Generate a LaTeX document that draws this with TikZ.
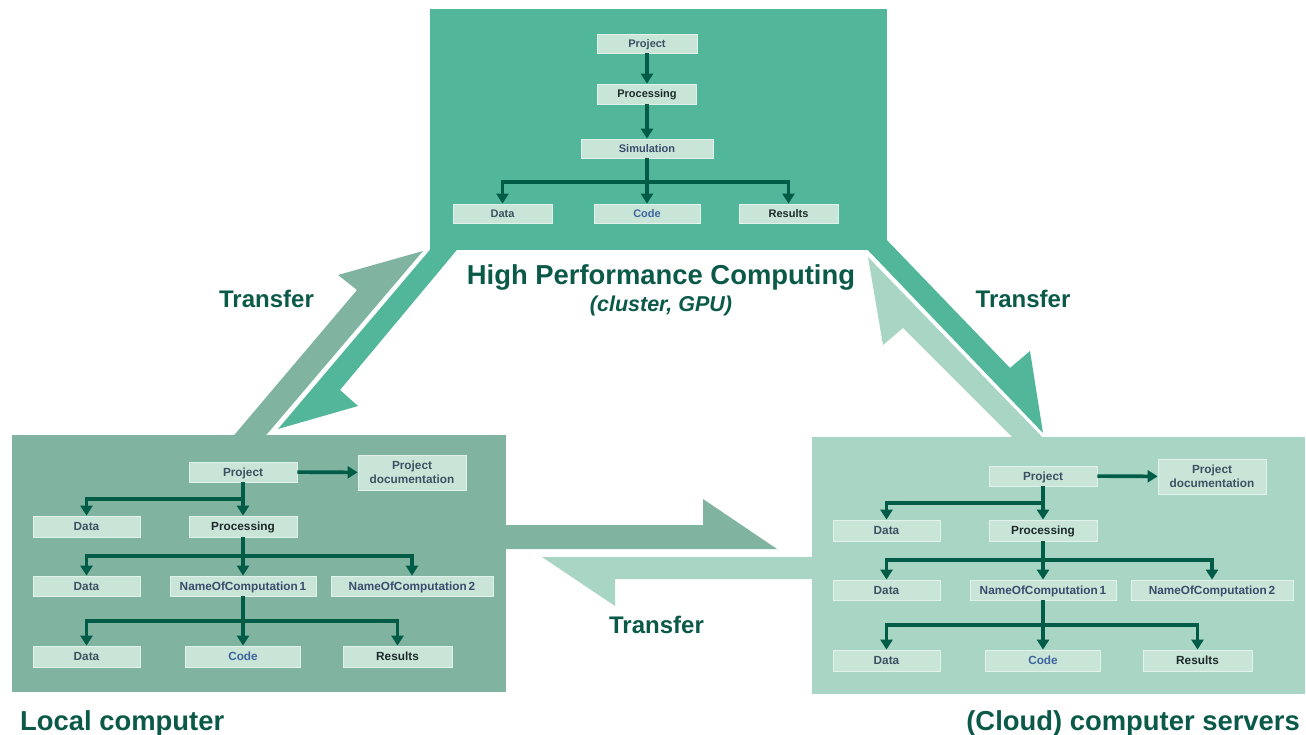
\documentclass[tikz,border=0pt]{standalone}
\usepackage{fontspec}
\setmainfont{Liberation Sans}
\usetikzlibrary{arrows.meta}
\definecolor{hpc}{HTML}{52B79A}
\definecolor{loc}{HTML}{80B4A1}
\definecolor{cld}{HTML}{A8D5C4}
\definecolor{boxfill}{HTML}{C8E5D8}
\definecolor{boxline}{HTML}{E2F1EB}
\definecolor{arrowc}{HTML}{005B47}
\definecolor{titlec}{HTML}{0B5A49}
\definecolor{tslate}{HTML}{3C5262}
\definecolor{tdark}{HTML}{1E2A2A}
\definecolor{tblue}{HTML}{40649E}
\definecolor{tnavy}{HTML}{3A4D6C}
\newcommand{\myboxfont}{\fontsize{11.8}{14}\selectfont\bfseries}
\newcommand{\mytopfont}{\fontsize{11}{13}\selectfont\bfseries}
\newcommand{\myheadfont}{\fontsize{27.4}{30}\selectfont\bfseries}
\newcommand{\mytransfont}{\fontsize{24}{26}\selectfont\bfseries}
\newcommand{\lowtree}[1]{%
  \node[tbox,minimum width=108pt,minimum height=20pt,text=tslate] (#1proj) at (243,472) {Project};
  \node[docbox,minimum width=108pt,minimum height=35pt,text=tslate] (#1doc) at (412,472.5) {Project\\documentation};
  \node[tbox,minimum width=107pt,minimum height=21pt,text=tslate] (#1data1) at (86.5,526.5) {Data};
  \node[tbox,minimum width=108pt,minimum height=21pt,text=tdark] (#1proc) at (243,526.5) {Processing};
  \node[tbox,minimum width=107pt,minimum height=20pt,text=tslate] (#1data2) at (86.5,586) {Data};
  \node[tbox,minimum width=146pt,minimum height=20pt,text=tnavy] (#1noca) at (243,586) {NameOfComputation\,1};
  \node[tbox,minimum width=162pt,minimum height=20pt,text=tnavy] (#1nocb) at (412,586) {NameOfComputation\,2};
  \node[tbox,minimum width=107pt,minimum height=21pt,text=tslate] (#1data3) at (86.5,656.5) {Data};
  \node[tbox,minimum width=115pt,minimum height=21pt,text=tblue] (#1code) at (243,656.5) {Code};
  \node[tbox,minimum width=109pt,minimum height=21pt,text=tdark] (#1res) at (397.5,656.5) {Results};
  \coordinate (#1ba) at (243,499);
  \coordinate (#1bb) at (243,556);
  \coordinate (#1bc) at (243,621);
  \draw[link] (#1proj) -- (#1doc);
  \draw[link] (#1proj) -- (#1proc);
  \draw[link] (#1ba) -| (#1data1);
  \draw[link] (#1proc) -- (#1noca);
  \draw[link] (#1bb) -| (#1data2);
  \draw[link] (#1bb) -| (#1nocb);
  \draw[link] (#1noca) -- (#1code);
  \draw[link] (#1bc) -| (#1data3);
  \draw[link] (#1bc) -| (#1res);
}
\begin{document}
\begin{tikzpicture}[x=1pt,y=-1pt,
  docbox/.style={draw=boxline,line width=0.8pt,fill=boxfill,inner sep=0pt,font=\myboxfont,align=center},
  tbox/.style={docbox,text height=8.4pt,text depth=0pt},
  topbox/.style={tbox,font=\mytopfont,text height=7.9pt,minimum height=19pt},
  link/.style={draw=arrowc,line width=3.6pt,line join=miter,-{Triangle[width=12pt,length=10pt]}},
  heading/.style={text=titlec,inner sep=0pt}]
\useasboundingbox (0,0) rectangle (1306,735);
\fill[white] (0,0) rectangle (1306,735);
% big transfer arrows
\fill[hpc] (434,245) -- (461,245) -- (340,390) -- (358,406) -- (278,429) -- cycle;
\fill[loc] (230,440) -- (357,290) -- (338,275) -- (423,251) -- (262,440) -- cycle;
\fill[hpc] (863,245) -- (882,235) -- (1010,368) -- (1030,351) -- (1043,433) -- cycle;
\fill[cld] (868,257) -- (883,345) -- (903,328) -- (1017,442) -- (1047,442) -- cycle;
\fill[loc] (500,525) -- (703,525) -- (703,499) -- (777,549) -- (500,549) -- cycle;
\fill[cld] (818,557) -- (542,557) -- (615,606) -- (615,579) -- (818,579) -- cycle;
% panels
\fill[hpc] (430,9) rectangle (887,250);
\fill[loc] (12,435) rectangle (506,692);
\fill[cld] (812,437) rectangle (1305,694);
% top tree
\node[topbox,minimum width=100pt,text=tslate] (tproj) at (647,43.5) {Project};
\node[topbox,minimum width=99pt,minimum height=20pt,text=tdark] (tproc) at (647,94) {Processing};
\node[topbox,minimum width=132pt,text=tnavy] (tsim) at (647,148.5) {Simulation};
\node[topbox,minimum width=99pt,text=tslate] (tdata) at (502.5,213.5) {Data};
\node[topbox,minimum width=106pt,text=tblue] (tcode) at (647,213.5) {Code};
\node[topbox,minimum width=99pt,text=tdark] (tres) at (788.5,213.5) {Results};
\coordinate (tb) at (647,182);
\draw[link] (tproj) -- (tproc);
\draw[link] (tproc) -- (tsim);
\draw[link] (tsim) -- (tcode);
\draw[link] (tb) -| (tdata);
\draw[link] (tb) -| (tres);
% lower trees
\lowtree{l}
\begin{scope}[shift={(800,4)}]
\lowtree{r}
\end{scope}
% labels
\node[heading,font=\myheadfont,anchor=base] (hpct) at (661,285) {High Performance Computing};
\node[heading,font=\fontsize{21.5}{24}\selectfont\bfseries\itshape,anchor=base] (hpcs) at (661,311) {(cluster, GPU)};
\node[heading,font=\mytransfont,anchor=base] (tra) at (266.5,308) {Transfer};
\node[heading,font=\mytransfont,anchor=base] (trb) at (1023,307) {Transfer};
\node[heading,font=\mytransfont,anchor=base] (trc) at (656.5,633) {Transfer};
\node[heading,font=\myheadfont,anchor=base west] (lct) at (20,730) {Local computer};
\node[heading,font=\myheadfont,anchor=base east] (cct) at (1300,730) {(Cloud) computer servers};
\end{tikzpicture}
\end{document}
